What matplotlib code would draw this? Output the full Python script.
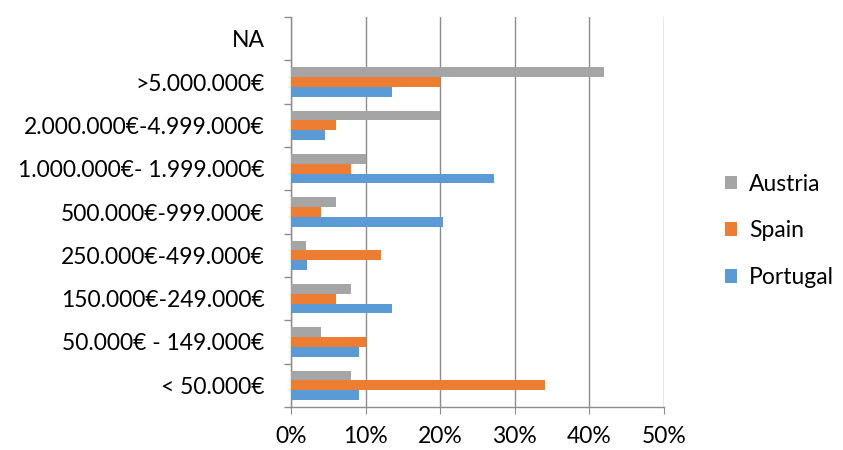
import numpy as np
import matplotlib
matplotlib.use("Agg")
from matplotlib import pyplot as plt
from matplotlib.ticker import PercentFormatter, FixedLocator

categories = ["< 50.000€", "50.000€ - 149.000€", "150.000€-249.000€",
              "250.000€-499.000€", "500.000€-999.000€", "1.000.000€- 1.999.000€",
              "2.000.000€-4.999.000€", ">5.000.000€", "NA"]
portugal = [9.1, 9.1, 13.6, 2.2, 20.4, 27.2, 4.5, 13.6, 0]
spain = [34, 10, 6, 12, 4, 8, 6, 20, 0]
austria = [8, 4, 8, 2, 6, 10, 20, 42, 0]

plt.rcParams["font.family"] = ["Lato", "DejaVu Sans"]
fs = 16.5

fig = plt.figure(figsize=(8.43, 4.5), dpi=100)
ax = fig.add_axes([291/843, 1 - 407/450, (664 - 291)/843, 390/450])

y = np.arange(len(categories))
h = 0.225
ax.barh(y - h, portugal, height=h, color="#5B9BD5", label="Portugal", zorder=3)
ax.barh(y, spain, height=h, color="#ED7D31", label="Spain", zorder=3)
ax.barh(y + h, austria, height=h, color="#A5A5A5", label="Austria", zorder=3)

gridc = "#8c8c8c"
ax.set_xlim(0, 50)
ax.set_ylim(-0.5, len(categories) - 0.5)
ax.set_xticks(np.arange(0, 51, 10))
ax.xaxis.set_major_formatter(PercentFormatter(decimals=0))
ax.grid(axis="x", color=gridc, linewidth=1, zorder=0)
ax.tick_params(axis="x", length=5, color=gridc, labelsize=fs, pad=9)

ax.set_yticks(y)
ax.set_yticklabels(categories, fontsize=fs)
ax.tick_params(axis="y", which="major", length=0, pad=19)
ax.yaxis.set_minor_locator(FixedLocator(np.arange(-0.5, len(categories), 1)))
ax.tick_params(axis="y", which="minor", length=5, color=gridc, width=1)

for s in ["top", "right"]:
    ax.spines[s].set_visible(False)
for s in ["left", "bottom"]:
    ax.spines[s].set_color(gridc)
    ax.spines[s].set_linewidth(1)

handles, labels = ax.get_legend_handles_labels()
fig.legend(handles[::-1], labels[::-1], loc="center left",
           bbox_to_anchor=(716/843, 1 - 231/450), frameon=False, fontsize=fs,
           handlelength=0.5, handleheight=0.55, labelspacing=1.13, handletextpad=0.55,
           borderaxespad=0)

fig.savefig("out.png", dpi=100)
